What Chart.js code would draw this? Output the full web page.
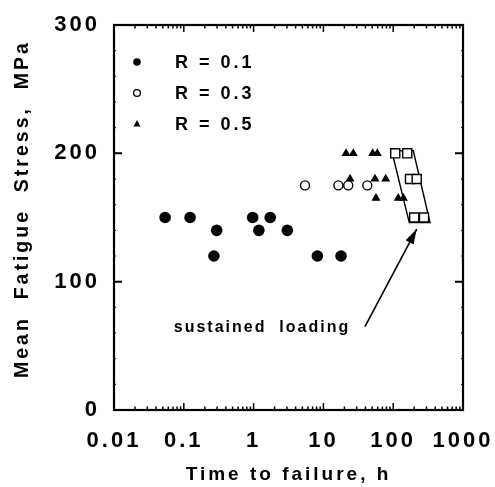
<!DOCTYPE html>
<html>
<head>
<meta charset="utf-8">
<script src="https://cdn.jsdelivr.net/npm/chart.js@4.4.1/dist/chart.umd.min.js"></script>
<style>
  html, body { margin: 0; padding: 0; background: #fff; }
  #graficas { width: 495px; height: 487px; }
</style>
</head>
<body>
<div id="graficas"><canvas id="FATIGA" width="495" height="487"></canvas></div>
<script>
// datos (tiempo en h, tension media en MPa)
const tiempoR01 = [0.054, 0.123, 0.296, 0.27, 0.97, 1.19, 1.73, 3.04, 8.2, 17.9];
const tensionR01 = [150, 150, 140, 120, 150, 140, 150, 140, 120, 120];

const tiempoR03 = [5.45, 16.4, 22.7, 42.6];
const tensionR03 = [175, 175, 175, 175];

const tiempoR05 = [21.1, 26.8, 50.8, 59.2, 24.1, 54.8, 78.1, 56.7, 118, 140];
const tensionR05 = [200, 200, 200, 200, 180, 180, 180, 165, 165, 165];

// carga sostenida (cuadrados) y la banda que los rodea
const tiempoSost = [107, 159, 174, 217, 200, 276];
const tensionSost = [200, 200, 180, 180, 150, 150];
const tiempoBanda = [95, 194, 337, 170, 95];
const tensionBanda = [202, 202, 146, 146, 202];

// flecha "sustained loading": cola -> punta
const tiempoFlecha = [39.4, 217];
const tensionFlecha = [65, 141];
const textoFlecha = 'sustained  loading';
const posTextoFlecha = [1.32, 64];

const decadas = [0.01, 0.1, 1, 10, 100, 1000];
const etiquetasX = ['0.01', '0.1', '1', '10', '100', '1000'];
const ticksY = [0, 100, 200, 300];
const leyenda = ['R = 0.1', 'R = 0.3', 'R = 0.5'];

const FUENTE = '"Liberation Sans", Arial, Helvetica, sans-serif';
Chart.defaults.font.family = FUENTE;
Chart.defaults.color = '#000';

function puntos(xs, ys) {
  return xs.map((x, i) => ({ x: x, y: ys[i] }));
}

// marco con marcas hacia dentro, leyenda y flecha
const marco = {
  id: 'marco',
  beforeDraw(chart) {
    chart.ctx.letterSpacing = '3px';
  },
  beforeDatasetsDraw(chart) {
    const ctx = chart.ctx;
    const a = chart.chartArea;
    const sx = chart.scales.x, sy = chart.scales.y;
    ctx.save();
    ctx.strokeStyle = '#000';
    ctx.lineWidth = 1.5;
    for (let k = -2; k <= 2; k++) {
      for (let m = 1; m <= 9; m++) {
        const px = sx.getPixelForValue(m * Math.pow(10, k));
        const largo = m === 1 ? 7 : 3.5;
        ctx.beginPath();
        ctx.moveTo(px, a.bottom); ctx.lineTo(px, a.bottom - largo);
        ctx.moveTo(px, a.top); ctx.lineTo(px, a.top + largo);
        ctx.stroke();
      }
    }
    ctx.lineWidth = 1;
    for (let v = 0; v <= 300; v += 20) {
      const py = sy.getPixelForValue(v);
      ctx.beginPath();
      ctx.moveTo(a.left, py); ctx.lineTo(a.left + 2, py);
      ctx.moveTo(a.right, py); ctx.lineTo(a.right - 2, py);
      ctx.stroke();
    }
    ctx.lineWidth = 2;
    ticksY.forEach(v => {
      const py = sy.getPixelForValue(v);
      ctx.beginPath();
      ctx.moveTo(a.left, py); ctx.lineTo(a.left + 8, py);
      ctx.moveTo(a.right, py); ctx.lineTo(a.right - 8, py);
      ctx.stroke();
    });
    ctx.lineWidth = 2.2;
    ctx.strokeRect(a.left, a.top, a.right - a.left, a.bottom - a.top);
    ctx.restore();
  },
  afterDraw(chart) {
    const ctx = chart.ctx;
    const a = chart.chartArea;
    const sx = chart.scales.x, sy = chart.scales.y;
    ctx.save();
    // punta de flecha
    const x0 = sx.getPixelForValue(tiempoFlecha[0]), y0 = sy.getPixelForValue(tensionFlecha[0]);
    const x1 = sx.getPixelForValue(tiempoFlecha[1]), y1 = sy.getPixelForValue(tensionFlecha[1]);
    const ang = Math.atan2(y1 - y0, x1 - x0);
    ctx.fillStyle = '#000';
    ctx.beginPath();
    ctx.moveTo(x1, y1);
    ctx.lineTo(x1 - 15 * Math.cos(ang) + 4.5 * Math.sin(ang), y1 - 15 * Math.sin(ang) - 4.5 * Math.cos(ang));
    ctx.lineTo(x1 - 15 * Math.cos(ang) - 4.5 * Math.sin(ang), y1 - 15 * Math.sin(ang) + 4.5 * Math.cos(ang));
    ctx.closePath();
    ctx.fill();

    ctx.letterSpacing = '2px';
    ctx.font = 'bold 16px ' + FUENTE;
    ctx.textAlign = 'center';
    ctx.textBaseline = 'middle';
    ctx.fillText(textoFlecha, sx.getPixelForValue(posTextoFlecha[0]), sy.getPixelForValue(posTextoFlecha[1]));

    // leyenda
    const lx = a.left + 23;
    const filas = [a.top + 37, a.top + 68, a.top + 99];
    ctx.lineWidth = 1.3;
    ctx.strokeStyle = '#000';
    ctx.beginPath(); ctx.arc(lx, filas[0], 3.8, 0, Math.PI * 2); ctx.fill();
    ctx.beginPath(); ctx.arc(lx, filas[1], 3.4, 0, Math.PI * 2); ctx.stroke();
    ctx.beginPath();
    ctx.moveTo(lx, filas[2] - 4); ctx.lineTo(lx + 3.5, filas[2] + 2.5); ctx.lineTo(lx - 3.5, filas[2] + 2.5);
    ctx.closePath(); ctx.fill();
    ctx.letterSpacing = '3px';
    ctx.font = 'bold 18px ' + FUENTE;
    ctx.textAlign = 'left';
    leyenda.forEach((t, i) => ctx.fillText(t, a.left + 61, filas[i] + 1));
    ctx.restore();
  }
};

const grafico = new Chart(document.getElementById('FATIGA'), {
  type: 'scatter',
  data: {
    datasets: [
      {
        label: 'R = 0.1',
        data: puntos(tiempoR01, tensionR01),
        pointStyle: 'circle', pointRadius: 5.8,
        backgroundColor: '#000', borderColor: '#000', borderWidth: 0
      },
      {
        label: 'R = 0.3',
        data: puntos(tiempoR03, tensionR03),
        pointStyle: 'circle', pointRadius: 4.5,
        backgroundColor: '#fff', borderColor: '#000', borderWidth: 1.4
      },
      {
        label: 'R = 0.5',
        data: puntos(tiempoR05, tensionR05),
        pointStyle: 'triangle', pointRadius: 5.2,
        backgroundColor: '#000', borderColor: '#000', borderWidth: 0
      },
      {
        label: 'sostenida',
        data: puntos(tiempoSost, tensionSost),
        pointStyle: 'rect', pointRadius: 6.4,
        backgroundColor: '#fff', borderColor: '#000', borderWidth: 1.4
      },
      {
        label: 'banda',
        type: 'line',
        data: puntos(tiempoBanda, tensionBanda),
        showLine: true, pointRadius: 0, fill: false,
        borderColor: '#000', borderWidth: 1.4, tension: 0
      },
      {
        label: 'flecha',
        type: 'line',
        data: puntos(tiempoFlecha, tensionFlecha),
        showLine: true, pointRadius: 0, fill: false,
        borderColor: '#000', borderWidth: 1.6, tension: 0
      }
    ]
  },
  options: {
    responsive: false,
    animation: false,
    events: [],
    layout: { padding: { top: 25, right: 32, left: 0, bottom: 0 } },
    plugins: { legend: { display: false }, tooltip: { enabled: false } },
    scales: {
      x: {
        type: 'logarithmic', min: 0.01, max: 1000,
        grid: { display: false, drawTicks: false },
        border: { display: false },
        afterBuildTicks: s => {
          const vals = [];
          for (let k = -2; k <= 2; k++) for (let m = 1; m <= 9; m++) vals.push(m * Math.pow(10, k));
          vals.push(1000);
          s.ticks = vals.map(v => ({ value: v }));
        },
        afterFit: s => {
          s.height = 77;
          s.paddingLeft = 0;
          s.paddingRight = 0;
        },
        ticks: {
          autoSkip: false, maxRotation: 0, padding: 18, color: '#000',
          font: { size: 22, weight: 'bold' },
          callback: v => {
            const i = decadas.findIndex(d => Math.abs(v / d - 1) < 1e-6);
            return i >= 0 ? etiquetasX[i] : '';
          }
        },
        title: {
          display: true, text: 'Time to failure, h', color: '#000',
          font: { size: 19, weight: 'bold' }, padding: { top: 0, bottom: 1 }
        }
      },
      y: {
        min: 0, max: 300,
        grid: { display: false, drawTicks: false },
        border: { display: false },
        afterBuildTicks: s => { s.ticks = ticksY.map(v => ({ value: v })); },
        afterFit: s => {
          s.width = 114;
          s.paddingTop = 0;
          s.paddingBottom = 0;
        },
        ticks: { padding: 14, color: '#000', font: { size: 22, weight: 'bold' } },
        title: {
          display: true, text: '  Mean  Fatigue  Stress,  MPa', color: '#000',
          font: { size: 19.5, weight: 'bold' }, padding: { top: 11, bottom: 0 }
        }
      }
    }
  },
  plugins: [marco]
});
</script>
</body>
</html>
